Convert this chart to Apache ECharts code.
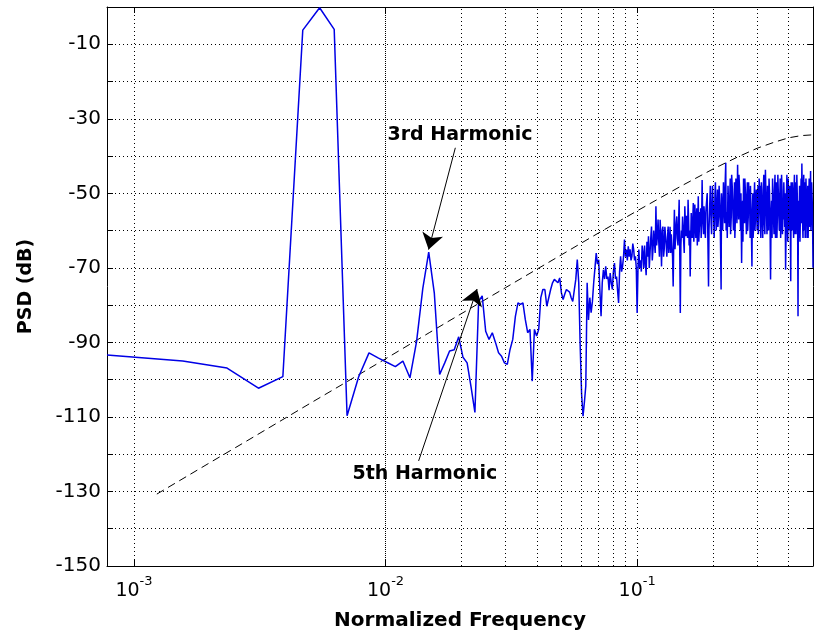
<!DOCTYPE html>
<html>
<head>
<meta charset="utf-8">
<script src="https://cdn.jsdelivr.net/npm/echarts@6/dist/echarts.min.js"></script>
<style>
html,body{margin:0;padding:0;background:#ffffff;}
#chart{width:819px;height:633px;}
</style>
</head>
<body>
<div id="chart"></div>
<script>
// ---------------- data ----------------
const FFT_LENGTH = 1280;           // normalized frequency = bin / FFT_LENGTH

const psdBin = [
  1,2,3,4,5,6,7,8,9,
  10,11,12,13,14,15,16,17,18,19,20,21,22,23,24,25,26,27,28,29,30,31,
  32,33,34,35,36,37,38,39,40,41,42,43,44,45,46,47,48,49,50,51,52,53,54,55,56,57,58,59,60,
  61,62,63,64,65,66,67,68,69,70,71,72,73,74,75,76,77,78,79,80,81,
  82,83,84,85,86,87,88,89,90,91,92,93,94,95,96,97,98,99,100,101,102,103,104,105,106,
  107,108,109,110,111,112,113,114,115,116,117,118,119,120,121,122,123,124,125,126,127,128,129,130,
  132,134,136,138,140,142,144,146,148,150,152,154,156,158,160,162,164,166,168,170,172,174,176,178,
  180,182,184,186,188,190,192,194,196,198,200,202,204,206,208,210,212,214,216,218,220,222,224,226,
  228,230,232,234,236,238,240,
  243,246,249,252,255,258,261,264,267,270,273,276,279,282,285,288,291,294,297,300,303,306,309,312,
  315,318,321,324,327,330,333,336,339,342,345,348,351,354,357,360,363,366,369,372,375,378,381,384,
  387,390,393,396,399,
  402,406,410,414,418,422,426,430,434,438,442,446,450,454,458,462,466,470,474,478,482,486,490,494,
  498,502,506,510,514,518,522,526,530,534,538,542,546,550,554,558,562,566,570,574,578,582,586,590,
  594,598,602,606,610,614,618,622,626,630,634,638,640
];

const psdDb = [
  -93.4,-95.0,-96.9,-102.3,-99.2,-6.2,-0.2,-6.0,-109.7,
  -99.3,-92.8,-94.2,-95.4,-96.5,-95.0,-99.5,-89.8,-75.5,-65.8,-76.8,-98.6,-95.5,-92.3,-92.0,-88.5,-94.0,-95.5,-102.0,-108.8,-79.0,-77.5,
  -87.0,-89.2,-87.4,-90.0,-92.8,-93.7,-95.5,-95.9,-91.9,-89.2,-83.0,-79.4,-79.8,-79.4,-83.9,-87.4,-86.5,-100.4,-86.5,-88.3,-86.5,-78.0,-75.8,-75.8,-80.3,-80.3,-75.8,-74.0,-73.1,
  -73.1,-74.0,-72.7,-76.7,-78.5,-77.0,-75.8,-75.4,-76.5,-78.0,-79.0,-76.0,-73.1,-67.8,-74.0,-91.0,-104.0,-109.8,-106.0,-101.7,-74.0,
  -84,-78,-82,-79,-74,-70,-66,-69,-67.8,-76,-83,-74,-70.5,-73,-69.6,-73,-72.3,-76,-71.4,-74,-75.8,-71,-68.7,-73,-72.3,
  -76,-79.4,-71,-66.9,-71,-69.6,-67,-62.4,-67,-65.1,-68,-64.2,-67,-65,-68,-66.9,-63.5,-65.1,-68,-66.9,-70,-82.1,-70,-65.1,
  -68,-64,-70,-68.7,-63,-61.5,-66,-58.9,-65,-63.3,-53.5,-61.5,-63,-57.1,-69.6,-58.9,-65,-61.5,-67,-58.9,-63.3,-66,-60.6,-75,
  -54.4,-62,-56.2,-64,-51.7,-82.1,-60,-56.2,-63,-53.5,-61.5,-58,-51.7,-64,-72.3,-55.3,-62,-52.6,-60,-56,-58,-64,-50.8,-60,
  -58.9,-62,-46.4,-58,-53.5,-60,-55,
  -50,-75,-52,-58,-48,-57,-50,-60,-49,-56,-53,-75.8,-55,-47,-58,-41.8,-55,-48,-59,-46,-56,-49,-60,-47,
  -55,-51,-42.3,-57,-49,-60,-68.7,-52,-46,-58,-50,-61,-47,-56,-52,-62,-55,-69.6,-50,-58,-47,-57,-49,-60,
  -48,-55,-51,-59,-47,
  -56,-49,-58,-43.7,-55,-48,-60,-50,-73.1,-52,-46,-57,-49,-62,-47,-56,-50,-60,-46,-58,-49,-55,-47,-59,
  -70.5,-50,-57,-46,-60,-48,-73.6,-52,-47,-58,-49,-61,-47,-56,-50,-83,-62,-48,-57,-46,-42,-58,-49,-60,
  -47,-55,-50,-62,-48,-57,-46,-59,-44,-56,-50,-60,-70
];

// further bins read inside the dense high-frequency band
const psdBinDense = [
  131,133,135,137,139,141,143,145,147,149,151,153,155,157,159,161,163,165,167,169,171,173,175,177,
  179,181,183,185,187,189,191,193,195,197,199,201,203,205,207,209,211,213,215,217,219,221,223,225,
  227,229,231,233,235,237,239,
  244,247,250,253,256,259,262,265,268,271,274,277,280,283,286,289,292,295,298,301,304,307,310,313,
  316,319,322,325,328,331,334,337,340,343,346,349,352,355,358,361,364,367,370,373,376,379,382,385,
  388,391,394,397,
  404,408,412,416,420,424,428,432,436,440,444,448,452,456,460,464,468,472,476,480,484,488,492,496,
  500,504,508,512,516,520,524,528,532,536,540,544,548,552,556,560,564,568,572,576,580,584,588,592,
  596,600,604,608,612,616,620,624,628,632,636
];
const psdDbDense = [
  -70,-71,-66,-64,-72,-67,-70,-62,-68,-60,-66,-64,-57,-67,-62,-60,-67,-59,-64,-62,-66,-59,-61,-67,
  -62,-65,-58,-62,-58,-65,-64,-62,-59,-66,-58,-56,-62,-57,-60,-62,-60,-57,-63,-53,-62,-54,-57,-63,
  -55,-54,-57,-55,-61,-56,-62,
  -58,-60,-48,-61,-51,-62,-47,-56,-59,-48,-59,-50,-60,-52,-49,-60,-62,-51,-55,-61,-45,-53,-56,-62,
  -46,-58,-50,-45,-55,-50,-60,-63,-52,-46,-55,-53,-60,-47,-49,-48,-59,-57,-62,-53,-60,-52,-54,-52,
  -61,-46,-48,-62,
  -62,-45,-61,-50,-61,-53,-46,-58,-56,-62,-51,-61,-45,-53,-62,-45,-55,-52,-62,-45,-61,-57,-52,-50,
  -61,-45,-63,-51,-55,-58,-47,-60,-51,-62,-45,-54,-61,-45,-58,-52,-55,-63,-52,-58,-50,-62,-45,-54,
  -62,-46,-53,-58,-62,-51,-54,-50,-60,-47,-53
];

// dashed reference (noise-shaping limit) curve
const limitFreq = [0.001233,0.002,0.003,0.005,0.007,0.01,0.015,0.02,0.03,0.05,0.07,0.1,0.15,0.2,0.25,0.3,0.35,0.4,0.45,0.5];
const limitDb   = [-130.7,-122.3,-115.3,-106.4,-100.6,-94.4,-87.3,-82.3,-75.3,-66.5,-60.7,-54.7,-48.0,-43.5,-40.3,-37.9,-36.3,-35.1,-34.5,-34.3];

// axis tick labels
const yTickLabels = [-150,-130,-110,-90,-70,-50,-30,-10];
const xMinorGrid = [0.0009,0.002,0.003,0.004,0.005,0.006,0.007,0.008,0.009,
                    0.02,0.03,0.04,0.05,0.06,0.07,0.08,0.09,0.2,0.3,0.4];

// annotations (data coordinates)
const noteText   = ['3rd Harmonic','5th Harmonic'];
const noteAnchor = [[0.010133,-34.43],[0.007355,-125.38]];
const arrowFrom  = [[0.018938,-37.78],[0.013531,-121.81]];
const arrowTo    = [[0.014828,-65.10],[0.023102,-75.68]];

// ---------------- chart ----------------
const FONT = 'DejaVu Sans';
const psdPoints = psdBin.map((k, i) => [k, psdDb[i]])
  .concat(psdBinDense.map((k, i) => [k, psdDbDense[i]]))
  .sort((a, b) => a[0] - b[0])
  .map(p => [p[0] / FFT_LENGTH, p[1]]);
const limitPoints = limitFreq.map((f, i) => [f, limitDb[i]]);
const dotted = {type:[1,3], color:'#000000', width:1};

const xBase = {
  type:'log', logBase:10, min:1/FFT_LENGTH, max:0.5,
  axisLine:{show:true, onZero:false, lineStyle:{color:'#000', width:1}},
  axisTick:{show:true, inside:true, length:6, lineStyle:{color:'#000', width:1}},
  minorTick:{show:false}
};
const yBase = {
  type:'value', min:-150, max:0, interval:10,
  axisLine:{show:true, onZero:false, lineStyle:{color:'#000', width:1}},
  axisTick:{show:true, inside:true, length:6, lineStyle:{color:'#000', width:1}}
};

const chart = echarts.init(document.getElementById('chart'), null, {renderer:'canvas'});
chart.setOption({
  animation:false,
  backgroundColor:'#ffffff',
  grid:{left:107, right:6, top:7, bottom:67, containLabel:false, outerBoundsMode:'none'},
  xAxis:[
    Object.assign({}, xBase, {
      position:'bottom',
      name:'Normalized Frequency', nameLocation:'middle', nameGap:45,
      nameTextStyle:{fontFamily:FONT, fontWeight:'bold', fontSize:20, color:'#000'},
      axisLabel:{
        show:true, margin:9, color:'#000', showMinLabel:true, showMaxLabel:true,
        formatter:function(v){
          const e = Math.log10(v), r = Math.round(e);
          if (Math.abs(e - r) > 1e-6) return '';
          return '{b|10}{s|' + r + '}';
        },
        rich:{
          b:{fontFamily:FONT, fontSize:19, color:'#000', lineHeight:26, verticalAlign:'bottom'},
          s:{fontFamily:FONT, fontSize:13, color:'#000', lineHeight:14, verticalAlign:'top'}
        }
      },
      splitLine:{show:true, lineStyle:dotted}
    }),
    Object.assign({}, xBase, {position:'top', axisLabel:{show:false}, splitLine:{show:false}})
  ],
  yAxis:[
    Object.assign({}, yBase, {
      position:'left',
      name:'PSD (dB)', nameLocation:'middle', nameGap:71,
      nameTextStyle:{fontFamily:FONT, fontWeight:'bold', fontSize:19, color:'#000'},
      axisLabel:{
        show:true, margin:6, color:'#000', fontFamily:FONT, fontSize:20,
        formatter:function(v){ return yTickLabels.indexOf(v) >= 0 ? String(v) : ''; }
      },
      splitLine:{show:true, lineStyle:dotted}
    }),
    Object.assign({}, yBase, {position:'right', axisLabel:{show:false}, splitLine:{show:false}})
  ],
  series:[
    {
      name:'grid', type:'line', data:[], z:1, silent:true,
      markLine:{
        silent:true, symbol:['none','none'], animation:false,
        label:{show:false},
        lineStyle:dotted,
        emphasis:{disabled:true},
        data: xMinorGrid.map(f => ({xAxis:f}))
      }
    },
    {
      name:'limit', type:'line', data:limitPoints, showSymbol:false, symbol:'none', z:2,
      lineStyle:{color:'#000000', width:1, type:[8,5]}, silent:true
    },
    {
      name:'PSD', type:'line', data:psdPoints, showSymbol:false, symbol:'none', z:3,
      lineStyle:{color:'#0000e6', width:1.5}, silent:true
    },
    {
      name:'notes', type:'line', data:[], z:5, silent:true,
      markLine:{
        silent:true, animation:false, symbol:['none','arrow'], symbolSize:16,
        label:{show:false}, emphasis:{disabled:true},
        lineStyle:{color:'#000', width:1, type:'solid'},
        itemStyle:{color:'#000'},
        data: arrowFrom.map((p, i) => [{coord:p}, {coord:arrowTo[i]}])
      },
      markPoint:{
        silent:true, animation:false, symbol:'circle', symbolSize:1,
        itemStyle:{color:'rgba(0,0,0,0)'},
        label:{show:true, position:'right', distance:0, formatter:'{b}',
               fontFamily:FONT, fontWeight:'bold', fontSize:19, color:'#000'},
        data: noteText.map((t, i) => ({name:t, coord:noteAnchor[i], value:0}))
      }
    }
  ]
});
</script>
</body>
</html>
